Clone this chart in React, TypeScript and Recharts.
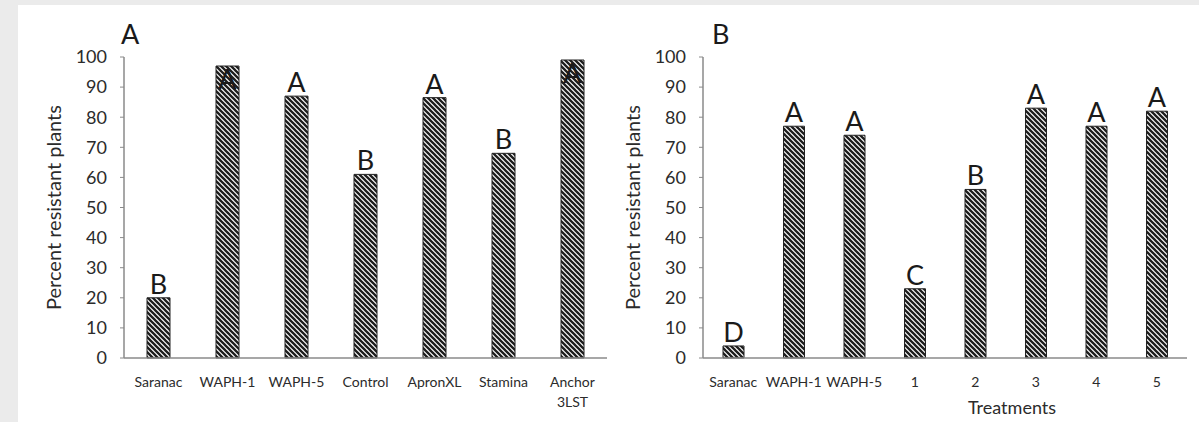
import { BarChart, Bar, XAxis, YAxis, LabelList } from 'recharts'

// panel A
const leftCategories = ['Saranac', 'WAPH-1', 'WAPH-5', 'Control', 'ApronXL', 'Stamina', 'Anchor 3LST']
const leftValues = [20, 97, 87, 61, 86.5, 68, 99]
const leftLetters = ['B', 'A', 'A', 'B', 'A', 'B', 'A']

// panel B
const rightCategories = ['Saranac', 'WAPH-1', 'WAPH-5', '1', '2', '3', '4', '5']
const rightValues = [4, 77, 74, 23, 56, 83, 77, 82]
const rightLetters = ['D', 'A', 'A', 'C', 'B', 'A', 'A', 'A']

const yTicks = [0, 10, 20, 30, 40, 50, 60, 70, 80, 90, 100]

const FONT = 'Lato, "Open Sans", sans-serif'
const TEXT = '#2b2b2b'
const AXIS = '#8a8a8a'

const CategoryTick = (props: any) => {
  const { x, y, payload } = props
  const lines = String(payload.value).split(' ')
  return (
    <text x={x} y={y} textAnchor="middle" fontSize={14} fill={TEXT} fontFamily={FONT}>
      {lines.map((l, i) => (
        <tspan key={i} x={x} dy={i === 0 ? 29 : 20}>
          {l}
        </tspan>
      ))}
    </text>
  )
}

const letterLabel = (values: number[]) => (props: any) => {
  const { x, y, width, value, index } = props
  const inside = values[index] > 90
  return (
    <text
      x={Number(x) + Number(width) / 2}
      y={inside ? Number(y) + 23 : Number(y) - 4}
      textAnchor="middle"
      fontSize={27}
      fill="#1a1a1a"
      fontFamily={FONT}
    >
      {value}
    </text>
  )
}

interface PanelProps {
  id: string
  categories: string[]
  values: number[]
  letters: string[]
  width: number
  axisWidth: number
  rightMargin: number
  barSize: number
  yLabelOffset: number
  xLabel?: string
}

function Panel({ id, categories, values, letters, width, axisWidth, rightMargin, barSize, yLabelOffset, xLabel }: PanelProps) {
  const data = categories.map((name, i) => ({ name, value: values[i], letter: letters[i] }))
  return (
    <BarChart
      width={width}
      height={422}
      data={data}
      margin={{ top: 57, right: rightMargin, left: 0, bottom: 14 }}
      barCategoryGap={0}
    >
      <defs>
        <pattern id={id} patternUnits="userSpaceOnUse" width={5} height={5}>
          <rect width={5} height={5} fill="#ffffff" />
          <path d="M-1,-1 L6,6 M-1,4 L1,6 M4,-1 L6,1" stroke="#1e1e1e" strokeWidth={2.3} />
        </pattern>
      </defs>
      <XAxis
        dataKey="name"
        height={50}
        interval={0}
        tickLine={false}
        tickSize={0}
        tickMargin={0}
        axisLine={{ stroke: AXIS, strokeWidth: 1.5 }}
        tick={<CategoryTick />}
        label={
          xLabel
            ? { value: xLabel, position: 'insideBottom', offset: -6, dx: 67, style: { fontSize: 18, fill: TEXT, fontFamily: FONT } }
            : undefined
        }
      />
      <XAxis xAxisId="top" orientation="top" dataKey="name" height={0} tick={false} tickLine={false} axisLine={{ stroke: AXIS, strokeWidth: 1.5 }} />
      <YAxis
        width={axisWidth}
        domain={[0, 100]}
        ticks={yTicks}
        tickSize={4}
        tickMargin={13}
        tick={{ fontSize: 18, fill: TEXT, fontFamily: FONT }}
        tickLine={{ stroke: AXIS }}
        axisLine={{ stroke: AXIS, strokeWidth: 1.5 }}
        label={{
          value: 'Percent resistant plants',
          angle: -90,
          position: 'insideLeft',
          offset: yLabelOffset,
          style: { textAnchor: 'middle', fontSize: 20, fill: TEXT, fontFamily: FONT },
        }}
      />
      <YAxis yAxisId="right" orientation="right" width={0} domain={[0, 100]} tick={false} tickLine={false} axisLine={{ stroke: AXIS, strokeWidth: 1.5 }} />
      <Bar dataKey="value" barSize={barSize} fill={`url(#${id})`} stroke="#222" strokeWidth={1} isAnimationActive={false}>
        <LabelList dataKey="letter" content={letterLabel(values)} />
      </Bar>
    </BarChart>
  )
}

export default function App() {
  return (
    <div style={{ position: 'absolute', left: 0, top: 0, width: 1199, height: 422, background: '#ebebeb', overflow: 'hidden' }}>
      <div style={{ position: 'absolute', left: 18, top: 5, width: 1181, height: 417, background: '#ffffff' }} />
      <div style={{ position: 'absolute', left: 121, top: 17, fontSize: 27, fontFamily: FONT, color: '#1a1a1a' }}>A</div>
      <div style={{ position: 'absolute', left: 712, top: 17, fontSize: 27, fontFamily: FONT, color: '#1a1a1a' }}>B</div>
      <div style={{ position: 'absolute', left: 0, top: 0 }}>
        <Panel
          id="hatchA"
          categories={leftCategories}
          values={leftValues}
          letters={leftLetters}
          width={620}
          axisWidth={124}
          rightMargin={13}
          barSize={23}
          yLabelOffset={54}
        />
      </div>
      <div style={{ position: 'absolute', left: 620, top: 0 }}>
        <Panel
          id="hatchB"
          categories={rightCategories}
          values={rightValues}
          letters={rightLetters}
          width={579}
          axisWidth={83}
          rightMargin={12}
          barSize={21}
          yLabelOffset={13}
          xLabel="Treatments"
        />
      </div>
    </div>
  )
}
